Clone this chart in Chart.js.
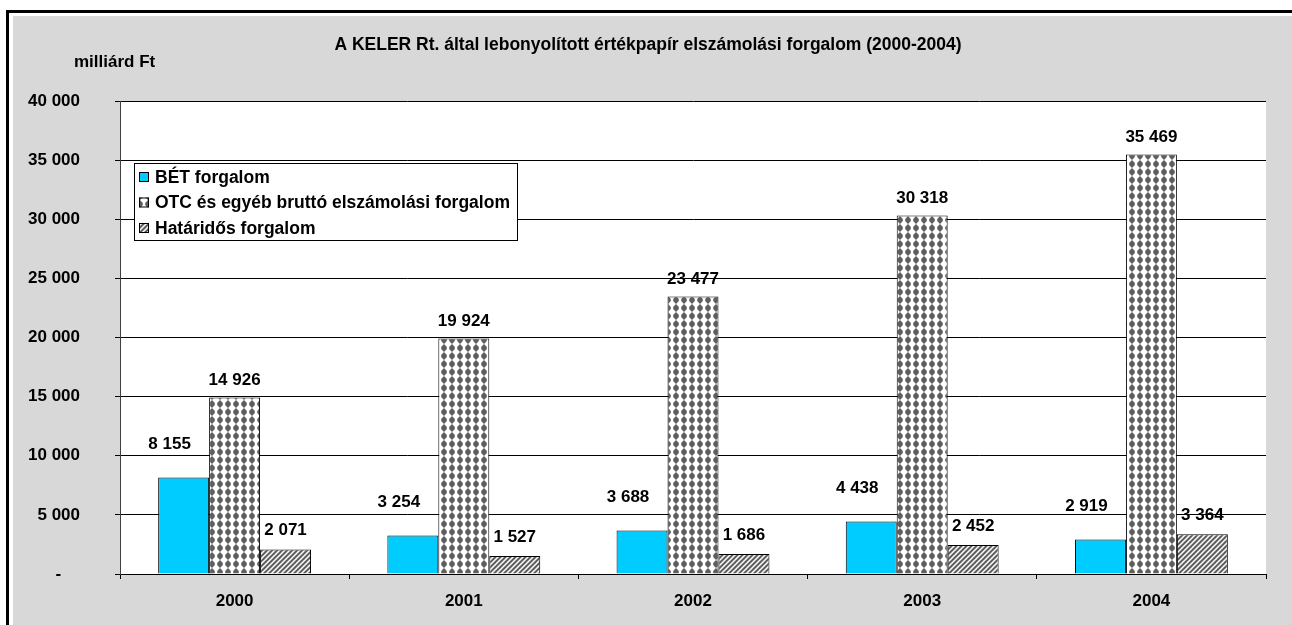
<!DOCTYPE html>
<html>
<head>
<meta charset="utf-8">
<script src="https://cdn.jsdelivr.net/npm/chart.js@4/dist/chart.umd.min.js"></script>
<style>
  html, body { margin: 0; padding: 0; background: #ffffff; }
  #wrap { width: 1292px; height: 625px; position: relative; }
  canvas { display: block; }
</style>
</head>
<body>
<div id="wrap"><canvas id="c" width="1292" height="625"></canvas></div>
<script>
// ---- Data ----
const categories = ['2000', '2001', '2002', '2003', '2004'];
const seriesNames = ['BÉT forgalom', 'OTC és egyéb bruttó elszámolási forgalom', 'Határidős forgalom'];
const betValues = [8155, 3254, 3688, 4438, 2919];
const otcValues = [14926, 19924, 23477, 30318, 35469];
const hatValues = [2071, 1527, 1686, 2452, 3364];
const yMin = 0;
const yMax = 40000;
const yStep = 5000;
const chartTitle = 'A KELER Rt. által lebonyolított értékpapír elszámolási forgalom (2000-2004)';
const unitLabel = 'milliárd Ft';

const FONT = '"Liberation Sans", Arial, Helvetica, sans-serif';

function fmt(n) {
  if (n === 0) return '-    ';
  return String(Math.round(n)).replace(/\B(?=(\d{3})+(?!\d))/g, ' ');
}

// ---- Patterns ----
function dotPattern() {
  const t = document.createElement('canvas');
  t.width = 8; t.height = 8;
  const g = t.getContext('2d');
  g.fillStyle = '#ffffff';
  g.fillRect(0, 0, 8, 8);
  g.fillStyle = '#5f5f5f';
  g.beginPath();
  g.moveTo(3, 1); g.lineTo(5, 1); g.lineTo(6.8, 3); g.lineTo(6.8, 5);
  g.lineTo(5, 7); g.lineTo(3, 7); g.lineTo(1.2, 5); g.lineTo(1.2, 3);
  g.closePath(); g.fill();
  g.fillRect(3.5, 0, 1, 8);
  return g.createPattern(t, 'repeat');
}
function hatchPattern() {
  const s = 5;
  const t = document.createElement('canvas');
  t.width = s; t.height = s;
  const g = t.getContext('2d');
  g.fillStyle = '#5f5f5f';
  g.fillRect(0, 0, s, s);
  g.strokeStyle = '#ffffff';
  g.lineWidth = 1.5;
  g.beginPath();
  g.moveTo(-1, s + 1); g.lineTo(s + 1, -1);
  g.moveTo(-1, 1); g.lineTo(1, -1);
  g.moveTo(s - 1, s + 1); g.lineTo(s + 1, s - 1);
  g.stroke();
  return g.createPattern(t, 'repeat');
}
const fills = ['#00ccff', dotPattern(), hatchPattern()];
const labelOffsets = [{dx: -14, dy: -33}, {dx: 0, dy: -17}, {dx: 0, dy: -19}];

// ---- Plugins ----
const backgroundPlugin = {
  id: 'bg',
  beforeDraw(chart) {
    const ctx = chart.ctx;
    const W = chart.width, H = chart.height;
    ctx.save();
    ctx.fillStyle = '#ffffff';
    ctx.fillRect(0, 0, W, H);
    ctx.fillStyle = '#000000';
    ctx.fillRect(6, 10, 3, H - 10);
    ctx.fillRect(6, 10, W - 6, 3);
    ctx.fillStyle = '#d8d8d8';
    ctx.fillRect(13, 16, W - 13, H - 16);
    const a = chart.chartArea;
    ctx.fillStyle = '#ffffff';
    ctx.fillRect(a.left, a.top, a.right - a.left, a.bottom - a.top);
    ctx.restore();
  }
};

const labelPlugin = {
  id: 'vals',
  afterDatasetsDraw(chart) {
    const ctx = chart.ctx;
    ctx.save();
    ctx.font = 'bold 17px ' + FONT;
    ctx.fillStyle = '#000000';
    ctx.textAlign = 'center';
    ctx.textBaseline = 'middle';
    chart.data.datasets.forEach((ds, di) => {
      const meta = chart.getDatasetMeta(di);
      meta.data.forEach((bar, i) => {
        const o = labelOffsets[di];
        ctx.fillText(fmt(ds.data[i]), bar.x + o.dx, bar.y + o.dy);
      });
    });
    ctx.restore();
  }
};

const textPlugin = {
  id: 'texts',
  afterDraw(chart) {
    const ctx = chart.ctx;
    ctx.save();
    ctx.fillStyle = '#000000';
    ctx.textBaseline = 'middle';
    ctx.font = 'bold 17.5px ' + FONT;
    ctx.textAlign = 'center';
    ctx.fillText(chartTitle, 648, 45);
    ctx.textAlign = 'left';
    ctx.font = 'bold 17px ' + FONT;
    ctx.fillText(unitLabel, 74, 62);

    // legend
    const bx = 134, by = 163, bw = 383, bh = 77;
    ctx.fillStyle = '#ffffff';
    ctx.fillRect(bx, by, bw, bh);
    ctx.strokeStyle = '#000000';
    ctx.lineWidth = 1;
    ctx.strokeRect(bx + 0.5, by + 0.5, bw, bh);
    ctx.font = 'bold 17.5px ' + FONT;
    chart.data.datasets.forEach((ds, i) => {
      const cy = 177 + i * 25.5;
      ctx.fillStyle = ds.backgroundColor;
      ctx.fillRect(139, cy - 5, 10, 10);
      ctx.strokeStyle = '#000000';
      ctx.strokeRect(139.5, cy - 4.5, 9, 9);
      ctx.fillStyle = '#000000';
      ctx.fillText(ds.label, 155, cy + 1);
    });
    ctx.restore();
  }
};

new Chart(document.getElementById('c'), {
  type: 'bar',
  data: {
    labels: categories,
    datasets: [
      { label: seriesNames[0], data: betValues, backgroundColor: fills[0] },
      { label: seriesNames[1], data: otcValues, backgroundColor: fills[1] },
      { label: seriesNames[2], data: hatValues, backgroundColor: fills[2] }
    ]
  },
  options: {
    responsive: false,
    animation: false,
    devicePixelRatio: 1,
    layout: { padding: { top: 101, right: 26, bottom: 0, left: 0 } },
    datasets: {
      bar: {
        borderColor: '#000000',
        borderWidth: 1,
        categoryPercentage: 0.667,
        barPercentage: 1
      }
    },
    plugins: {
      legend: { display: false },
      title: { display: false },
      tooltip: { enabled: false }
    },
    scales: {
      x: {
        afterFit(s) { s.height = 51; },
        offset: true,
        grid: { display: true, drawOnChartArea: false, drawTicks: true, tickLength: 5, color: '#000000', offset: true },
        border: { display: true, color: '#000000', width: 1 },
        ticks: { color: '#000000', font: { family: FONT, size: 17, weight: 'bold' }, padding: 12, maxRotation: 0 }
      },
      y: {
        min: yMin,
        max: yMax,
        afterFit(s) { s.width = 120; },
        grid: { color: '#000000', lineWidth: 1, drawTicks: true, tickLength: 5 },
        border: { display: true, color: '#404040', width: 1 },
        ticks: {
          stepSize: yStep,
          color: '#000000',
          padding: 35,
          font: { family: FONT, size: 17, weight: 'bold' },
          callback: (v) => fmt(v)
        }
      }
    }
  },
  plugins: [backgroundPlugin, labelPlugin, textPlugin]
});
</script>
</body>
</html>
